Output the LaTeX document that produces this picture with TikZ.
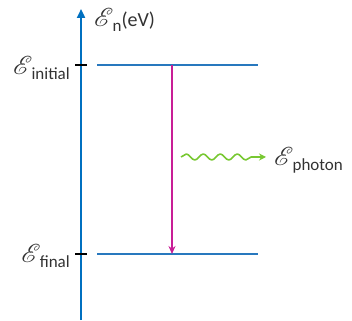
\documentclass[tikz,border=0pt]{standalone}
\usepackage{fontspec}
\setmainfont{Carlito}
\usepackage{mathrsfs}
\usepackage{graphicx}
\usepackage{tikz}
\usetikzlibrary{arrows.meta,decorations.pathmorphing}
\definecolor{axisblue}{RGB}{0,112,192}
\definecolor{levelblue}{RGB}{40,120,190}
\definecolor{transmag}{RGB}{200,30,150}
\definecolor{photgreen}{RGB}{120,200,50}
\definecolor{labgray}{RGB}{50,50,50}
\newcommand{\lvl}[1]{\scalebox{1.25}{$\mathscr{E}$}\kern-1pt\raisebox{-0.5ex}{\fontsize{17}{17}\selectfont #1}}
\tikzset{level/.style={levelblue,line width=1.6pt},
  tick/.style={black,line width=1.6pt},
  lab/.style={inner sep=1pt,text=labgray,font=\fontsize{20}{22}\selectfont}}

\begin{document}
\begin{tikzpicture}[x=1pt,y=1pt,>=Stealth,line join=round]
\useasboundingbox (0,0) rectangle (352,320);
% --- energy axis
\coordinate (ax0) at (81,0);
\coordinate (ax1) at (81,311);
\draw[axisblue,line width=2.4pt,-{Triangle[length=9pt,width=8pt]}] (ax0) -- (ax1);
\node[lab,anchor=west] (axlab) at (93,300) {\lvl{n}(eV)};
% --- levels
\coordinate (ini0) at (97,255); \coordinate (ini1) at (258,255);
\coordinate (fin0) at (97,66);  \coordinate (fin1) at (258,66);
\draw[level] (ini0) -- (ini1);
\draw[level] (fin0) -- (fin1);
\draw[tick] (75,255) coordinate (tk0) -- (87,255) coordinate (tk1);
\draw[tick] (75,66) coordinate (tf0) -- (87,66) coordinate (tf1);
\node[lab,anchor=east] (inilab) at (71,252) {\lvl{initial}};
\node[lab,anchor=east] (finlab) at (71,64) {\lvl{final}};
% --- transition and photon
\coordinate (tr0) at (172,255); \coordinate (tr1) at (172,66);
\draw[transmag,line width=1.6pt,-{Stealth[length=8pt,width=7pt]}] (tr0) -- (tr1);
\coordinate (ph0) at (181,163); \coordinate (ph1) at (266,163);
\draw[photgreen,line width=1.6pt,-{Stealth[length=7pt,width=7pt]},decorate,
  decoration={snake,amplitude=3pt,segment length=17pt,post length=7pt}] (ph0) -- (ph1);
\node[lab,anchor=west] (phlab) at (273,160) {\lvl{photon}};
\end{tikzpicture}
\end{document}
